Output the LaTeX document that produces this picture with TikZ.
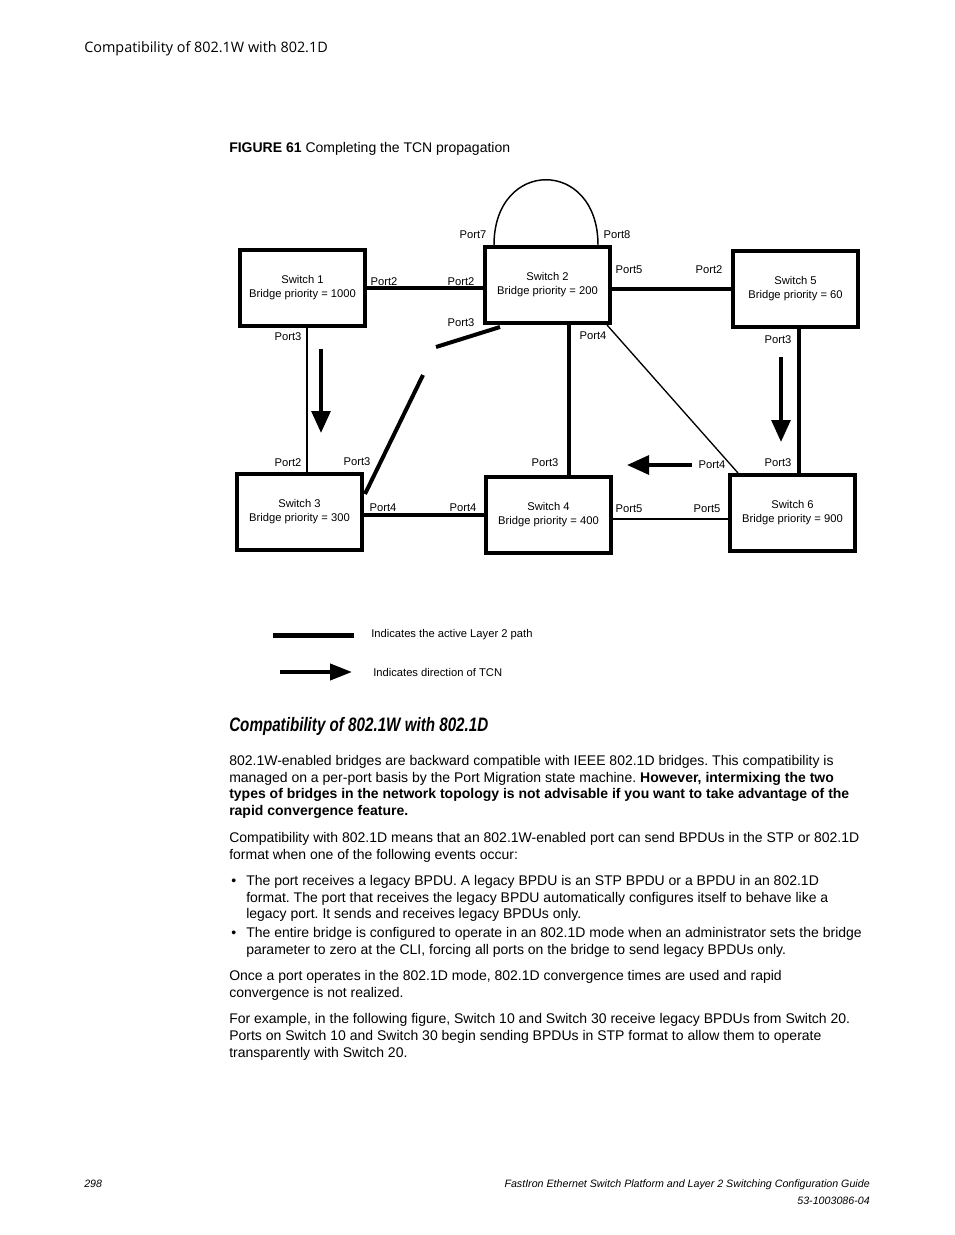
\documentclass[tikz,border=0pt]{standalone}
\usepackage{fontspec}
\setmainfont{Liberation Sans}
\newfontfamily\headerfont{Open Sans}
\newfontfamily\sectfont[FakeStretch=0.78]{Liberation Sans}
\usetikzlibrary{arrows.meta,positioning,calc}
\frenchspacing
\tikzset{
  switchbox/.style={draw, line width=3pt, minimum width=93.75pt, minimum height=57pt, inner sep=0pt, align=center, font=\fontsize{8.4pt}{10.5pt}\selectfont},
  port/.style={font=\fontsize{8.4pt}{10pt}\selectfont, inner sep=0pt},
  activelink/.style={line width=3pt},
  thinlink/.style={line width=1.5pt},
  tcn/.style={-{Triangle[length=16.5pt,width=14pt]}, line width=3pt},
  bodyline/.style={anchor=base west, inner sep=0pt, font=\fontsize{10.5pt}{12.75pt}\selectfont}
}

\begin{document}
\begin{tikzpicture}[x=0.75pt, y=-0.75pt]
  \fill[white] (0,0) rectangle (954,1235);
  \useasboundingbox (0,0) rectangle (954,1235);
  % page header and caption
  \node[anchor=base west, inner sep=0pt, font=\headerfont\fontsize{10.8pt}{12pt}\selectfont] (head) at (84,52) {Compatibility of 802.1W with 802.1D};
  \node[anchor=base west, inner sep=0pt, font=\fontsize{10.5pt}{12pt}\selectfont] (caption) at (229,152) {\textbf{FIGURE 61} Completing the TCN propagation};
  % switches
  \node[switchbox] (s1) at (302.5,288) {Switch 1\\Bridge priority = 1000};
  \node[switchbox] (s2) at (547.5,285) {Switch 2\\Bridge priority = 200};
  \node[switchbox] (s5) at (795.5,288.5) {Switch 5\\Bridge priority = 60};
  \node[switchbox] (s3) at (299.5,512) {Switch 3\\Bridge priority = 300};
  \node[switchbox] (s4) at (548.5,515) {Switch 4\\Bridge priority = 400};
  \node[switchbox] (s6) at (792.5,513) {Switch 6\\Bridge priority = 900};
  % links
  \draw[activelink] (s1.east) -- (s1.east -| s2.west);
  \draw[activelink] (s5.west) -- (s5.west -| s2.east);
  \draw[activelink] (s4.west) -- (s4.west -| s3.east);
  \draw[thinlink] ($(s4.east)+(0,4)$) coordinate (s4p5) -- (s4p5 -| s6.west);
  \draw[thinlink] ($(s1.south)+(4.5,0)$) coordinate (s1p3) -- (s1p3 |- s3.north);
  \draw[activelink] ($(s2.south)+(21.5,0)$) coordinate (s2p4) -- (s2p4 |- s4.north);
  \draw[activelink] ($(s5.south)+(3.5,0)$) coordinate (s5p3) -- (s5p3 |- s6.north);
  \draw[line width=1pt] ($(s2.south east)+(-5,0)$) -- ($(s6.north west)+(10,0)$);
  \coordinate (brk1) at (436,347);
  \coordinate (brk2) at (423,375);
  \draw[activelink] ($(s2.south west)+(17,2)$) -- (brk1);
  \draw[activelink] (brk2) -- ($(s3.north east)+(1,22)$);
  \draw[line width=1.1pt] ($(s2.north west)+(11,0)$) .. controls (494,158) and (598,158) .. ($(s2.north east)+(-14,0)$);
  % TCN arrows
  \coordinate (tcn1) at (321,349);
  \coordinate (tcn2) at (781,357);
  \coordinate (tcn3) at (692,465);
  \draw[tcn] (tcn1) -- (321,433);
  \draw[tcn] (tcn2) -- (781,442);
  \draw[tcn] (tcn3) -- (627,465);
  % port labels
  \foreach \nm/\x/\y/\t in {pa/473/235/Port7, pb/617/235/Port8,
      pc/384/282/Port2, pd/288/337/Port3,
      pe/461/282/Port2, pf/461/323/Port3, pg/629/270/Port5, ph/593/336/Port4,
      pi/709/270/Port2, pj/778/340/Port3,
      pk/288/463/Port2, pl/357/462/Port3, pm/383/508/Port4,
      pn/463/508/Port4, po/545/463/Port3, pp/629/509/Port5,
      pq/712/465/Port4, pr/778/463/Port3, ps/707/509/Port5}
    \node[port] (\nm) at (\x,\y) {\t};
  % legend
  \coordinate (lg1a) at (273,635);
  \coordinate (lg1b) at (354,635);
  \draw[line width=3.75pt] (lg1a) -- (lg1b);
  \node[port, right=12.75pt of lg1b] (lg1t) {Indicates the active Layer 2 path};
  \coordinate (lg2a) at (280,672);
  \coordinate (lg2b) at (352,672);
  \draw[-{Triangle[length=16.5pt,width=12pt]}, line width=3pt] (lg2a) -- (lg2b);
  \node[port, right=15.75pt of lg2b] (lg2t) {Indicates direction of TCN};
  % section text
  \node[anchor=base west, inner sep=0pt, font=\sectfont\bfseries\itshape\fontsize{14.6pt}{16pt}\selectfont] (sect) at (229,731) {Compatibility of 802.1W with 802.1D};
  \foreach \yy/\xx/\tx in {
      765/229/{802.1W-enabled bridges are backward compatible with IEEE 802.1D bridges. This compatibility is},
      782/229/{managed on a per-port basis by the Port Migration state machine. \textbf{However, intermixing the two}},
      798/229/{\textbf{types of bridges in the network topology is not advisable if you want to take advantage of the}},
      815/229/{\textbf{rapid convergence feature.}},
      842/229/{Compatibility with 802.1D means that an 802.1W-enabled port can send BPDUs in the STP or 802.1D},
      859/229/{format when one of the following events occur:},
      885/231/{•},
      885/246/{The port receives a legacy BPDU. A legacy BPDU is an STP BPDU or a BPDU in an 802.1D},
      902/246/{format. The port that receives the legacy BPDU automatically configures itself to behave like a},
      918/246/{legacy port. It sends and receives legacy BPDUs only.},
      937/231/{•},
      937/246/{The entire bridge is configured to operate in an 802.1D mode when an administrator sets the bridge},
      954/246/{parameter to zero at the CLI, forcing all ports on the bridge to send legacy BPDUs only.},
      980/229/{Once a port operates in the 802.1D mode, 802.1D convergence times are used and rapid},
      997/229/{convergence is not realized.},
      1023/229/{For example, in the following figure, Switch 10 and Switch 30 receive legacy BPDUs from Switch 20.},
      1040/229/{Ports on Switch 10 and Switch 30 begin sending BPDUs in STP format to allow them to operate},
      1057/229/{transparently with Switch 20.}}
    \node[bodyline] (b\yy x\xx) at (\xx,\yy) {\tx};
  % footer
  \node[anchor=base west, inner sep=0pt, font=\itshape\fontsize{8pt}{10pt}\selectfont] (pageno) at (84,1187) {298};
  \node[anchor=base east, inner sep=0pt, font=\itshape\fontsize{8pt}{10pt}\selectfont] (guide) at (870,1187) {FastIron Ethernet Switch Platform and Layer 2 Switching Configuration Guide};
  \node[anchor=base east, inner sep=0pt, font=\itshape\fontsize{8pt}{10pt}\selectfont] (docno) at (870,1204) {53-1003086-04};
\end{tikzpicture}
\end{document}
